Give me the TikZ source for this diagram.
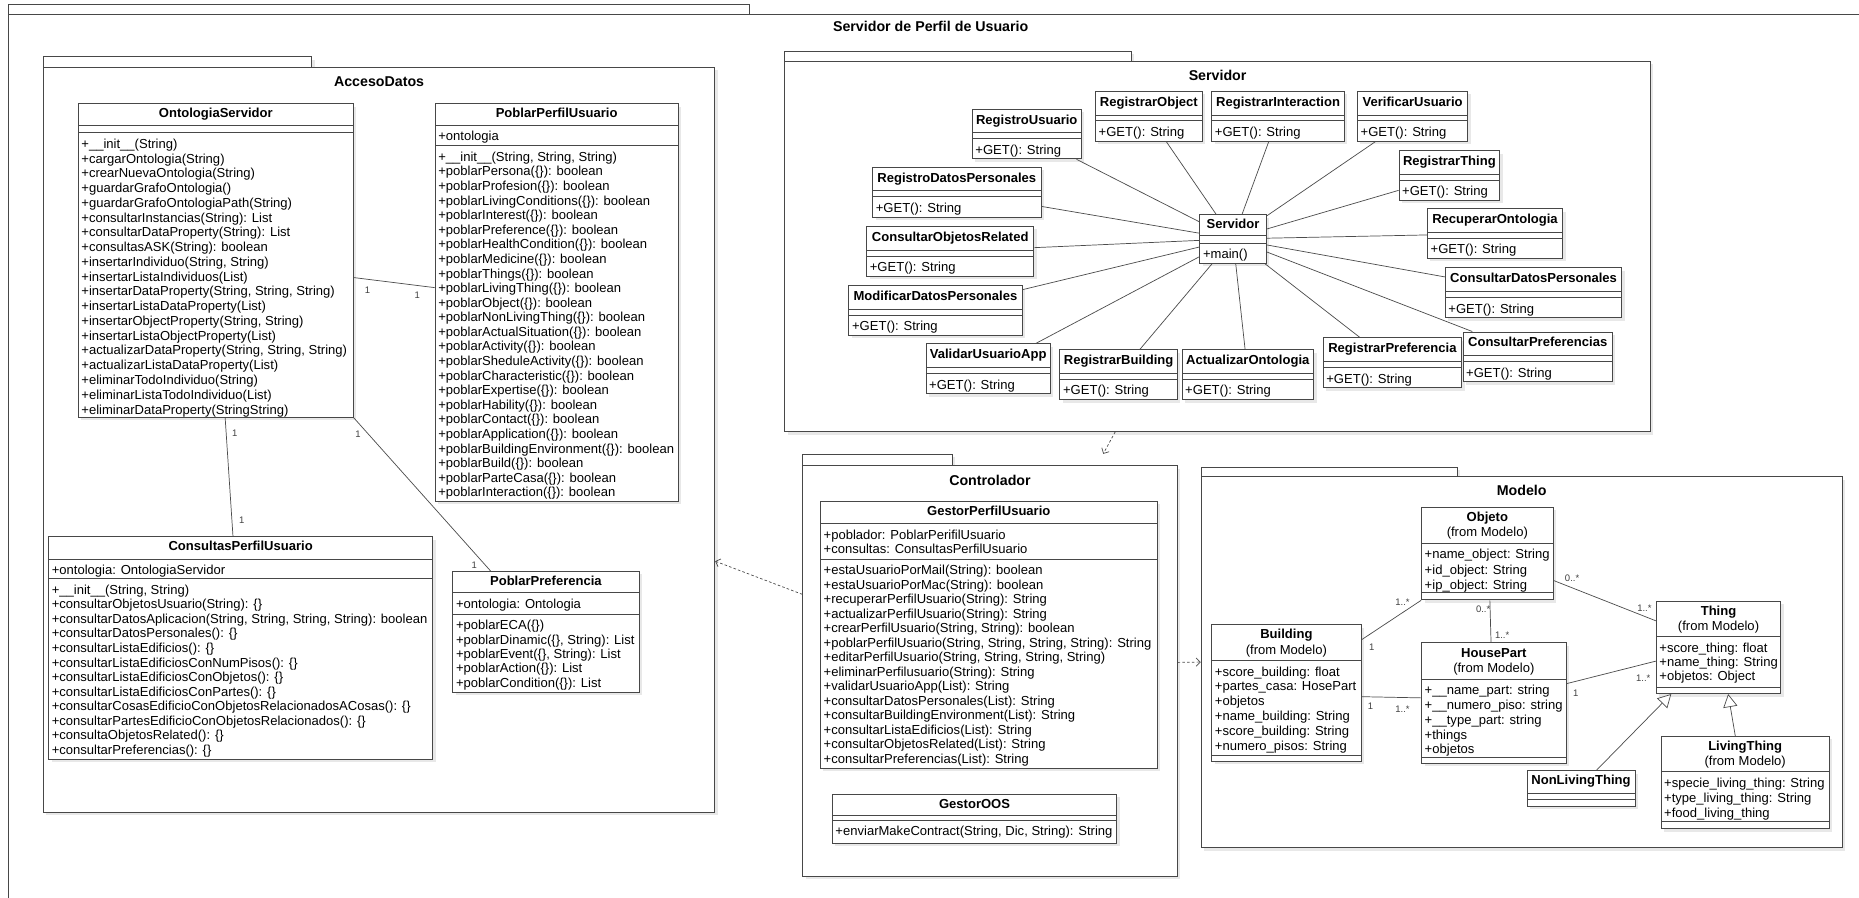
\documentclass[tikz,border=0pt]{standalone}
\usepackage{fontspec}
\setmainfont{Liberation Sans}
\usetikzlibrary{fit,calc,arrows.meta,shadows}

\tikzset{
  box/.style={draw=black!72, line width=0.75pt, fill=white, inner sep=0pt,
    drop shadow={shadow xshift=2.5pt, shadow yshift=-2.5pt, fill=black!9, opacity=1}},
  sepline/.style={draw=black!72, line width=0.75pt},
  clsname/.style={anchor=center, align=center, inner sep=0pt, font=\fontsize{11}{13}\selectfont},
  clstext/.style={anchor=north west, align=left, inner sep=1pt},
  pkgtitle/.style={font=\fontsize{12}{14}\selectfont\bfseries, inner sep=0pt},
  pkgarea/.style={inner sep=0pt},
  assoc/.style={draw=black!70, line width=0.6pt},
  dep/.style={draw=black!70, line width=0.6pt, dash pattern=on 2.2pt off 1.8pt,
    -{Straight Barb[length=3.5pt,width=7pt]}},
  gen/.style={draw=black!70, line width=0.6pt, -{Triangle[fill=white, length=11pt, width=12pt]}},
  mult/.style={font=\fontsize{8}{9}\selectfont, text=black!75, inner sep=0pt},
}

% UML class: name [baselineskip] (x1,x2) (ytop,yhead,yattr,ybottom) {header} {attributes} {methods}
\def\UC#1[#2](#3,#4)(#5,#6,#7,#8)#9{%
  \def\ucN{#1}\def\ucL{#2}\def\ucXa{#3}\def\ucXb{#4}%
  \def\ucYt{#5}\def\ucYh{#6}\def\ucYa{#7}\def\ucYb{#8}\def\ucH{#9}\UCrest}
\newcommand\UCrest[2]{%
  \node[box, fit={(\ucXa,\ucYt) (\ucXb,\ucYb)}] (\ucN) {};
  \draw[sepline] (\ucXa,\ucYh) -- (\ucXb,\ucYh);
  \draw[sepline] (\ucXa,\ucYa) -- (\ucXb,\ucYa);
  \node[clsname] at ({(\ucXa+\ucXb)/2},{(\ucYt+\ucYh)/2}) {\strut\ucH};
  \node[clstext, font=\fontsize{11}{\ucL}\selectfont] at ({\ucXa+1.5},{\ucYh+3.3}) {\strut#1};
  \node[clstext, font=\fontsize{11}{\ucL}\selectfont] at ({\ucXa+1.5},{\ucYa+3.3}) {\strut#2};
}
% small servlet class
\def\SC#1(#2,#3,#4)#5{\UC{#1}[12.3](#2,#3)(#4,#4+20,#4+25,#4+42){\textbf{#5}}{}{+GET(): String}}
% package: name, x1, tab right, tab top, body top, x2, bottom, title
\newcommand\PKG[8]{%
  \path[box] (#2,#4) rectangle (#3,#5);
  \path[box] (#2,#5) rectangle (#6,#7);
  \node[pkgarea, fit={(#2,#4) (#6,#7)}] (#1) {};
  \node[pkgtitle] at ({(#2+#6)/2},{#5+12}) {#8};
}

\begin{document}
\begin{tikzpicture}[x=1pt,y=-1pt]
\useasboundingbox (0,0) rectangle (1568,757);
\clip (0,0) rectangle (1568,757);

% outer frame
\draw[sepline] (7.5,3.4) rectangle (632,12);
\draw[sepline] (7.5,12) rectangle (1600,800);
\node[pkgtitle] (outertitle) at (785,22.5) {Servidor de Perfil de Usuario};

% packages
\PKG{pkgAD}{36.5}{263}{48}{56.5}{603}{685}{AccesoDatos}
\PKG{pkgServ}{662}{954}{43}{51.5}{1392}{364}{Servidor}
\PKG{pkgCtrl}{677}{803}{383}{393}{993}{739}{Controlador}
\PKG{pkgMod}{1013}{1229}{394}{402}{1554}{715}{Modelo}

% ---------------- AccesoDatos
\UC{onto}[12.45](66,298)(87.5,105.4,111.9,352){\textbf{OntologiaServidor}}{}{%
+\_\_init\_\_(String)\\
+cargarOntologia(String)\\
+crearNuevaOntologia(String)\\
+guardarGrafoOntologia()\\
+guardarGrafoOntologiaPath(String)\\
+consultarInstancias(String): List\\
+consultarDataProperty(String): List\\
+consultasASK(String): boolean\\
+insertarIndividuo(String, String)\\
+insertarListaIndividuos(List)\\
+insertarDataProperty(String, String, String)\\
+insertarListaDataProperty(List)\\
+insertarObjectProperty(String, String)\\
+insertarListaObjectProperty(List)\\
+actualizarDataProperty(String, String, String)\\
+actualizarListaDataProperty(List)\\
+eliminarTodoIndividuo(String)\\
+eliminarListaTodoIndividuo(List)\\
+eliminarDataProperty(StringString)}

\UC{ppu}[12.3](367,572)(87.5,105.4,123,423){\textbf{PoblarPerfilUsuario}}{+ontologia}{%
+\_\_init\_\_(String, String, String)\\
+poblarPersona(\{\}): boolean\\
+poblarProfesion(\{\}): boolean\\
+poblarLivingConditions(\{\}): boolean\\
+poblarInterest(\{\}): boolean\\
+poblarPreference(\{\}): boolean\\
+poblarHealthCondition(\{\}): boolean\\
+poblarMedicine(\{\}): boolean\\
+poblarThings(\{\}): boolean\\
+poblarLivingThing(\{\}): boolean\\
+poblarObject(\{\}): boolean\\
+poblarNonLivingThing(\{\}): boolean\\
+poblarActualSituation(\{\}): boolean\\
+poblarActivity(\{\}): boolean\\
+poblarSheduleActivity(\{\}): boolean\\
+poblarCharacteristic(\{\}): boolean\\
+poblarExpertise(\{\}): boolean\\
+poblarHability(\{\}): boolean\\
+poblarContact(\{\}): boolean\\
+poblarApplication(\{\}): boolean\\
+poblarBuildingEnvironment(\{\}): boolean\\
+poblarBuild(\{\}): boolean\\
+poblarParteCasa(\{\}): boolean\\
+poblarInteraction(\{\}): boolean}

\UC{cpu}[12.3](41,365)(452.7,471.5,488,640.5){\textbf{ConsultasPerfilUsuario}}{+ontologia: OntologiaServidor}{%
+\_\_init\_\_(String, String)\\
+consultarObjetosUsuario(String): \{\}\\
+consultarDatosAplicacion(String, String, String, String): boolean\\
+consultarDatosPersonales(): \{\}\\
+consultarListaEdificios(): \{\}\\
+consultarListaEdificiosConNumPisos(): \{\}\\
+consultarListaEdificiosConObjetos(): \{\}\\
+consultarListaEdificiosConPartes(): \{\}\\
+consultarCosasEdificioConObjetosRelacionadosACosas(): \{\}\\
+consultarPartesEdificioConObjetosRelacionados(): \{\}\\
+consultaObjetosRelated(): \{\}\\
+consultarPreferencias(): \{\}}

\UC{ppref}[12.2](382,539)(482,500,518,584){\textbf{PoblarPreferencia}}{+ontologia: Ontologia}{%
+poblarECA(\{\})\\
+poblarDinamic(\{\}, String): List\\
+poblarEvent(\{\}, String): List\\
+poblarAction(\{\}): List\\
+poblarCondition(\{\}): List}

\draw[assoc] (onto) -- (ppu);
\draw[assoc] ($(onto.south west)!0.534!(onto.south east)$) -- ($(cpu.north west)!0.48!(cpu.north east)$);
\draw[assoc] (onto.south east) -- ($(ppref.north west)!0.204!(ppref.north east)$);
\node[mult] (m1) at (310,244.6) {1};
\node[mult] (m2) at (352,249) {1};
\node[mult] (m3) at (198,365) {1};
\node[mult] (m4) at (204,439) {1};
\node[mult] (m5) at (302,366) {1};
\node[mult] (m6) at (400,477) {1};

% ---------------- Servidor
\UC{srv}[12.3](1012,1068)(181,199,205,222){\textbf{Servidor}}{}{+main()}
\SC{ru}(820,912,92){RegistroUsuario}
\SC{robj}(924,1014,77){RegistrarObject}
\SC{rint}(1022,1134,77){RegistrarInteraction}
\SC{ver}(1145,1238,77){VerificarUsuario}
\SC{rth}(1180,1265,127){RegistrarThing}
\SC{rdp}(736,878,141){RegistroDatosPersonales}
\SC{rec}(1204,1318,176){RecuperarOntologia}
\SC{cor}(731,872,191){ConsultarObjetosRelated}
\SC{cdp}(1219,1368,226){ConsultarDatosPersonales}
\SC{mdp}(716,862,241){ModificarDatosPersonales}
\SC{vua}(781,886,290){ValidarUsuarioApp}
\SC{rb}(894,993,295){RegistrarBuilding}
\SC{ao}(997,1108,295){ActualizarOntologia}
\SC{rp}(1116,1233,285){RegistrarPreferencia}
\SC{cp}(1234,1360,280){ConsultarPreferencias}
\foreach \n in {ru,robj,rint,ver,rth,rdp,rec,cor,cdp,mdp,vua,rb,ao,rp,cp}
  \draw[assoc] (\n) -- (srv);

% ---------------- Controlador
\UC{gpu}[12.25](692,976)(423,441.7,471.5,648){\textbf{GestorPerfilUsuario}}{%
+poblador: PoblarPerifilUsuario\\
+consultas: ConsultasPerfilUsuario}{%
+estaUsuarioPorMail(String): boolean\\
+estaUsuarioPorMac(String): boolean\\
+recuperarPerfilUsuario(String): String\\
+actualizarPerfilUsuario(String): String\\
+crearPerfilUsuario(String, String): boolean\\
+poblarPerfilUsuario(String, String, String, String): String\\
+editarPerfilUsuario(String, String, String, String)\\
+eliminarPerfilusuario(String): String\\
+validarUsuarioApp(List): String\\
+consultarDatosPersonales(List): String\\
+consultarBuildingEnvironment(List): String\\
+consultarListaEdificios(List): String\\
+consultarObjetosRelated(List): String\\
+consultarPreferencias(List): String}
\UC{goos}[12.3](702,942)(670,688,692,711){\textbf{GestorOOS}}{}{+enviarMakeContract(String, Dic, String): String}

% ---------------- Modelo
\UC{obj}[12.8](1199,1310)(428,458,500,506){\textbf{Objeto}\\(from Modelo)}{%
+name\_object: String\\
+id\_object: String\\
+ip\_object: String}{}
\UC{bld}[12.5](1022,1148)(527,557,637,642){\textbf{Building}\\(from Modelo)}{%
+score\_building: float\\
+partes\_casa: HosePart\\
+objetos\\
+name\_building: String\\
+score\_building: String\\
+numero\_pisos: String}{}
\UC{hp}[12.4](1199,1321)(542,573,639,644){\textbf{HousePart}\\(from Modelo)}{%
+\_\_name\_part: string\\
+\_\_numero\_piso: string\\
+\_\_type\_part: string\\
+things\\
+objetos}{}
\UC{thing}[12.1](1397,1502)(507,537,580,585){\textbf{Thing}\\(from Modelo)}{%
+score\_thing: float\\
+name\_thing: String\\
+objetos: Object}{}
\UC{lt}[12.5](1401,1543)(621,651,693,699){\textbf{LivingThing}\\(from Modelo)}{%
+specie\_living\_thing: String\\
+type\_living\_thing: String\\
+food\_living\_thing}{}
\UC{nlt}[12.3](1288,1379)(650,669,674,680){\textbf{NonLivingThing}}{}{}

\draw[assoc] ($(bld.north east)+(0,13)$) -- (obj.south west);
\draw[assoc] ($(obj.south west)+(58,0)$) -- ($(hp.north west)+(59,0)$);
\draw[assoc] ($(bld.north east)+(0,61)$) -- ($(hp.north west)+(0,47)$);
\draw[assoc] ($(obj.north east)+(0,62)$) -- ($(thing.north west)+(0,17)$);
\draw[assoc] ($(hp.north east)+(0,35)$) -- ($(thing.north west)+(0,51)$);
\draw[gen] ($(nlt.north west)+(59,0)$) -- ($(thing.south west)+(13,0)$);
\draw[gen] ($(lt.north west)+(63,0)$) -- ($(thing.south west)+(61,0)$);

\node[mult] (n1) at (1183,508) {1..*};
\node[mult] (n2) at (1157,546) {1};
\node[mult] (n3) at (1251,514) {0..*};
\node[mult] (n4) at (1267,536) {1..*};
\node[mult] (n5) at (1156,596) {1};
\node[mult] (n6) at (1183,598) {1..*};
\node[mult] (n7) at (1326,488) {0..*};
\node[mult] (n8) at (1387,513) {1..*};
\node[mult] (n9) at (1329,585) {1};
\node[mult] (n10) at (1386,572) {1..*};

% ---------------- dependencies
\draw[dep] (pkgServ) -- (pkgCtrl);
\draw[dep] (pkgCtrl) -- (pkgAD);
\draw[dep] (pkgCtrl) -- (pkgMod);
\end{tikzpicture}
\end{document}
